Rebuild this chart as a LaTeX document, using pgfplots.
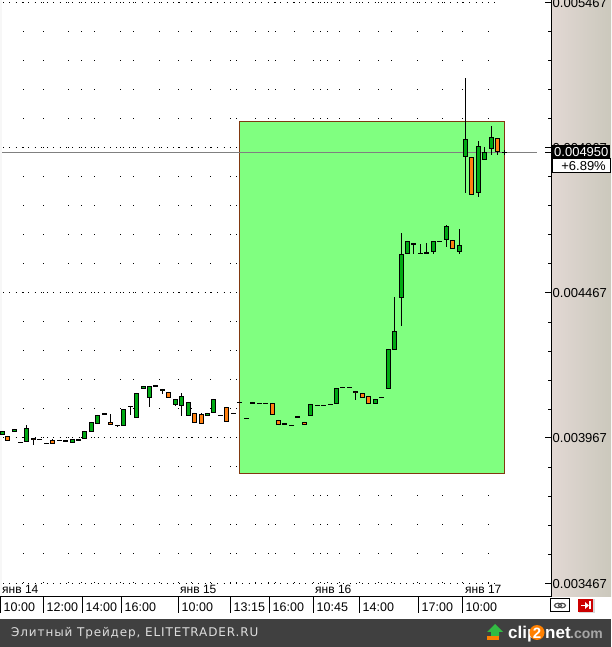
\documentclass[border=0pt]{standalone}
\usepackage{pgfplots}
\usepackage{pgfplotstable}
\usepackage{fontspec}
\pgfplotsset{compat=1.18}
\setmainfont{Liberation Sans}
\newfontfamily\footfont[LetterSpace=7.3]{DejaVu Sans}
\definecolor{upcol}{RGB}{0,170,20}
\definecolor{downcol}{RGB}{255,128,16}
\definecolor{zone}{RGB}{128,255,128}
\definecolor{zoneedge}{RGB}{128,56,16}
\definecolor{panelL}{RGB}{226,216,212}
\definecolor{panelR}{RGB}{203,200,188}
\definecolor{footer}{RGB}{64,64,64}

% x is the bar position across the window, prices as shown on the scale
\pgfplotstableread{
x top bot high low
2.5 0.0039954 0.0039793 0.0039954 0.0039793
14.5 0.0039977 0.0039896 0.0039977 0.0039896
26.5 0.0040011 0.0039552 0.0040126 0.0039552
72.5 0.0039632 0.0039495 0.0039632 0.0039495
84.5 0.0039908 0.0039632 0.0039908 0.0039632
91.5 0.0040218 0.0039896 0.0040218 0.0039896
97.5 0.0040459 0.0040172 0.0040459 0.0040172
104.5 0.0040527 0.0040459 0.0040527 0.0040459
123.5 0.0040665 0.0040080 0.0040665 0.0040080
136.5 0.0041216 0.0040355 0.0041216 0.0040355
143.5 0.0041457 0.0041354 0.0041457 0.0041354
149.5 0.0041457 0.0041044 0.0041457 0.0040757
162.5 0.0041354 0.0041285 0.0041354 0.0041204
175.5 0.0041009 0.0040803 0.0041009 0.0040768
181.5 0.0041113 0.0040768 0.0041227 0.0040424
188.5 0.0040906 0.0040424 0.0040906 0.0040424
207.5 0.0040527 0.0040424 0.0040527 0.0040424
213.5 0.0041009 0.0040527 0.0041009 0.0040527
310.5 0.0040837 0.0040424 0.0040837 0.0040424
336.5 0.0041388 0.0040837 0.0041388 0.0040837
375.5 0.0041009 0.0040837 0.0041009 0.0040837
388.5 0.0042732 0.0041355 0.0042732 0.0041355
394.5 0.0043351 0.0042696 0.0044521 0.0042696
401.5 0.0046001 0.0044487 0.0046724 0.0043534
407.5 0.0046449 0.0046001 0.0046449 0.0046001
433.5 0.0046449 0.0046070 0.0046449 0.0046001
446.5 0.0046965 0.0046483 0.0046999 0.0046242
459.5 0.0046311 0.0046070 0.0046862 0.0046001
465.5 0.0049959 0.0049340 0.0052059 0.0048123
478.5 0.0049718 0.0048100 0.0049890 0.0047986
484.5 0.0049512 0.0049236 0.0049684 0.0049236
491.5 0.0050028 0.0049615 0.0050407 0.0049409
}\upbars
\pgfplotstableread{
x top bot high low
7.5 0.0039736 0.0039586 0.0039736 0.0039586
33.5 0.0039690 0.0039621 0.0039690 0.0039449
52.5 0.0039598 0.0039483 0.0039632 0.0039483
110.5 0.0040218 0.0040114 0.0040504 0.0040114
168.5 0.0041250 0.0041044 0.0041250 0.0041044
194.5 0.0040527 0.0040183 0.0040527 0.0040183
201.5 0.0040493 0.0040149 0.0040539 0.0040149
226.5 0.0040734 0.0040218 0.0040734 0.0040218
272.5 0.0040872 0.0040459 0.0040872 0.0040459
278.5 0.0040286 0.0040114 0.0040286 0.0040114
284.5 0.0040183 0.0040114 0.0040183 0.0040114
304.5 0.0040218 0.0040114 0.0040218 0.0040114
355.5 0.0041285 0.0041216 0.0041285 0.0040986
362.5 0.0041216 0.0041044 0.0041216 0.0041044
368.5 0.0041113 0.0040837 0.0041113 0.0040837
413.5 0.0046380 0.0046311 0.0046380 0.0046001
452.5 0.0046483 0.0046173 0.0046483 0.0046173
471.5 0.0049340 0.0048032 0.0049340 0.0048032
497.5 0.0049994 0.0049512 0.0049994 0.0049409
}\downbars
\pgfplotstableread{
x top bot high low
20.5 0.0039546 0.0039512 0.0039546 0.0039512
39.5 0.0039649 0.0039615 0.0039649 0.0039615
46.5 0.0039512 0.0039478 0.0039512 0.0039478
59.5 0.0039615 0.0039581 0.0039615 0.0039581
65.5 0.0039615 0.0039547 0.0039615 0.0039547
78.5 0.0039649 0.0039581 0.0039649 0.0039581
117.5 0.0040131 0.0040097 0.0040131 0.0040068
130.5 0.0040785 0.0040751 0.0040785 0.0040481
155.5 0.0041508 0.0041440 0.0041508 0.0041440
220.5 0.0040476 0.0040442 0.0040476 0.0040442
233.5 0.0040544 0.0040510 0.0040544 0.0040510
239.5 0.0040923 0.0040889 0.0040923 0.0040889
246.5 0.0040372 0.0040338 0.0040372 0.0040338
252.5 0.0040923 0.0040855 0.0040923 0.0040855
259.5 0.0040889 0.0040855 0.0040889 0.0040855
265.5 0.0040889 0.0040855 0.0040889 0.0040855
291.5 0.0040131 0.0040097 0.0040131 0.0040097
297.5 0.0040441 0.0040373 0.0040441 0.0040373
317.5 0.0040820 0.0040786 0.0040820 0.0040786
323.5 0.0040820 0.0040786 0.0040820 0.0040786
330.5 0.0040854 0.0040820 0.0040854 0.0040820
342.5 0.0041439 0.0041405 0.0041439 0.0041405
349.5 0.0041439 0.0041405 0.0041439 0.0041405
381.5 0.0041095 0.0041061 0.0041095 0.0041061
420.5 0.0046053 0.0046019 0.0046357 0.0046019
426.5 0.0046087 0.0046019 0.0046380 0.0046019
439.5 0.0046466 0.0046432 0.0046466 0.0046432
504.5 0.0049529 0.0049495 0.0049592 0.0049409
}\flatbars

% snaps a price to the nearest pixel row so the bars stay crisp
\newcommand{\snap}[1]{(0.0054756-round((0.0054756-#1)/0.000003442379)*0.000003442379)}

\newcommand{\wicks}[1]{%
  \addplot[draw=none, mark=none, error bars/.cd, y dir=both, y explicit, error mark=none,
    error bar style={black, line width=1pt}]
    table[x=x, y expr=\snap{\thisrow{top}},
          y error plus expr=\snap{\thisrow{high}}-\snap{\thisrow{top}},
          y error minus expr=\snap{\thisrow{top}}-\snap{\thisrow{low}}] {#1};
}
\newcommand{\bodies}[1]{%
  \addplot[draw=none, mark=none, error bars/.cd, y dir=plus, y explicit, error mark=none,
    error bar style={black, line width=5pt}]
    table[x=x, y expr=\snap{\thisrow{bot}},
          y error plus expr=\snap{\thisrow{top}}-\snap{\thisrow{bot}}] {#1};
}
\newcommand{\fills}[2]{%
  \addplot[draw=none, mark=none, error bars/.cd, y dir=plus, y explicit, error mark=none,
    error bar style={#2, line width=3pt}]
    table[x=x, y expr=\snap{\thisrow{bot}}+0.000003442379,
          y error plus expr=\snap{\thisrow{top}}-\snap{\thisrow{bot}}-0.000006884758] {#1};
}
\newcommand{\denserow}[1]{%
  \addplot[black, line width=1pt, dash pattern=on 1pt off 5.3pt] coordinates {(3,#1) (500,#1)};
}

\begin{document}
\begin{tikzpicture}[x=1pt,y=1pt]
\path[use as bounding box, clip] (0,0) rectangle (611,647);
\fill[white] (0,0) rectangle (611,647);
\fill[black!3] (0,50) rectangle (2,647);
\shade[left color=panelL, right color=panelR] (551,50) rectangle (611,647);
\fill[footer] (0,0) rectangle (611,28);

\begin{axis}[
    at={(0pt,50pt)}, anchor=south west,
    scale only axis, width=551pt, height=597pt,
    xmin=0, xmax=551,
    ymin=0.0034205, ymax=0.0054756,
    clip=false,
    axis x line*=bottom, axis y line*=right,
    axis line style={black, line width=1pt, -},
    scaled ticks=false,
    ytick={0.003467,0.0039695,0.0044688,0.0049678,0.005467},
    yticklabels={0.003467,0.003967,0.004467,0.004967,0.005467},
    minor ytick={0.003567,0.003667,0.003767,0.003867,0.004067,0.004167,0.004267,0.004367,
                 0.004567,0.004667,0.004767,0.004867,0.005067,0.005167,0.005267,0.005367},
    yticklabel style={font=\fontsize{13}{13}\selectfont, inner sep=1.5pt, yshift=-0.8pt},
    y tick style={black, line width=1pt},
    major tick length=6.5pt, minor tick length=3.5pt,
    extra y ticks={0.0049507}, extra y tick labels={},
    xtick={23.5,43.5,68.5,81.5,94.5,120.5,133.5,159.5,178.5,191.5,210.5,230.5,236.5,255.5,268.5,
           275.5,294.5,313.5,320.5,327.5,339.5,359.5,378.5,391.5,417.5,442.5,462.5,488.5},
    xticklabels={},
    x tick style={draw=none},
    xmajorgrids=true,
    grid style={black, line width=1pt, dash pattern=on 1pt off 28pt, dash phase=15pt},
    extra x ticks={0.5,43.5,82.5,121.5,178.5,230.5,269.5,313.5,359.5,418.5,462.5},
    extra x tick labels={10:00,12:00,14:00,16:00,10:00,13:15,16:00,10:45,14:00,17:00,10:00},
    extra x tick style={grid=none, x tick style={black, line width=1pt, draw=black},
        major tick length=15.5pt, tick align=outside,
        tick label style={font=\fontsize{12.5}{13}\selectfont, anchor=north west,
            inner sep=0pt, xshift=3pt, yshift=9.5pt}},
]
\denserow{0.003467}
\denserow{0.0039695}
\denserow{0.0044688}
\denserow{0.0049678}
\denserow{0.005467}

% highlighted zone
\addplot[fill=zone, draw=zoneedge, line width=1pt] coordinates
    {(239.5,0.0038455) (504.5,0.0038455) (504.5,0.005057) (239.5,0.005057)} -- cycle;

% last price line
\addplot[black!50, line width=1pt] coordinates {(2,0.0049507) (537,0.0049507)};

\wicks{\upbars}\wicks{\downbars}\wicks{\flatbars}
\bodies{\upbars}\bodies{\downbars}\bodies{\flatbars}
\fills{\upbars}{upcol}
\fills{\downbars}{downcol}

\node[anchor=base west, font=\fontsize{12}{12}\selectfont, inner sep=0pt] at (axis cs:2,0.003431) {янв 14};
\node[anchor=base west, font=\fontsize{12}{12}\selectfont, inner sep=0pt] at (axis cs:180,0.003431) {янв 15};
\node[anchor=base west, font=\fontsize{12}{12}\selectfont, inner sep=0pt] at (axis cs:315,0.003431) {янв 16};
\node[anchor=base west, font=\fontsize{12}{12}\selectfont, inner sep=0pt] at (axis cs:465,0.003431) {янв 17};
\end{axis}

% last price box on the scale
\fill[black] (552,488) rectangle (610,502);
\node[white, anchor=base west, font=\fontsize{13}{13}\selectfont, inner sep=0pt] at (554,490.5) {0.004950};
\fill[white, draw=black, line width=1pt] (552,488) rectangle (610,474);
\node[anchor=base east, font=\fontsize{13}{13}\selectfont, inner sep=0pt] at (606,476.5) {+6.89\%};

% buttons under the scale
\draw[black, fill=white, line width=1pt] (550.5,35) rectangle (569.5,48);
\draw[black!70, line width=1.2pt] (558,41.5) ellipse (3.5 and 2.2);
\draw[black!70, line width=1.2pt] (562,41.5) ellipse (3.5 and 2.2);
\fill[black!15] (579,34) rectangle (595,48);
\fill[red!80!black] (578,35) rectangle (593,48);
\draw[white, line width=1.6pt] (581,41.5) -- (587,41.5);
\fill[white] (585,45) -- (589,41.5) -- (585,38) -- cycle;
\draw[white, line width=1.4pt] (590,37.5) -- (590,45.5);

% footer
\node[anchor=base west, inner sep=0pt, text=black!13, font=\footfont\fontsize{12}{12}\selectfont] at (11,10) {Элитный Трейдер, ELITETRADER.RU};
\fill[upcol!80!white] (495,23) -- (503,15) -- (499,15) -- (499,10) -- (491,10) -- (491,15) -- (487,15) -- cycle;
\fill[orange] (487,7) rectangle (499,11);
\node[anchor=base west, inner sep=0pt, text=white, font=\bfseries\fontsize{17}{17}\selectfont] at (508,9) {clip};
\fill[orange] (537,14.5) circle (7.5);
\node[anchor=base, inner sep=0pt, text=white, font=\bfseries\fontsize{15}{15}\selectfont] at (537,9) {2};
\node[anchor=base west, inner sep=0pt, text=white, font=\bfseries\fontsize{17}{17}\selectfont] at (545,9) {net};
\node[anchor=base west, inner sep=0pt, text=black!35, font=\bfseries\fontsize{14}{14}\selectfont] at (570,9) {.com};
\end{tikzpicture}
\end{document}
